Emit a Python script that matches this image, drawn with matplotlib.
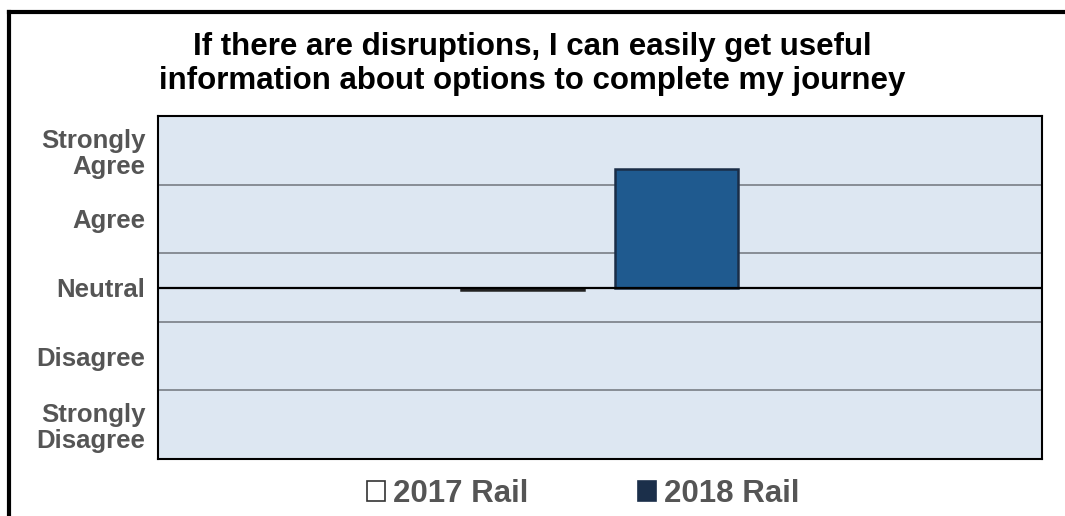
import matplotlib.pyplot as plt
from matplotlib.lines import Line2D
from matplotlib.patches import Patch

plt.rcParams['font.family'] = ['Liberation Sans', 'DejaVu Sans']

# --- data ---
series = ["2017 Rail", "2018 Rail"]
values = [-0.03, 1.73]
fills = ["white", "#1f5a8f"]
edges = ["#222222", "#1a2d47"]
legend_fills = ["white", "#1b2f4a"]
tick_pos = [2, 1, 0, -1, -2]
tick_labels = ["Strongly\nAgree", "Agree", "Neutral", "Disagree", "Strongly\nDisagree"]
grid_pos = [1.5, 0.5, -0.5, -1.5]
title = ("If there are disruptions, I can easily get useful\n"
         "information about options to complete my journey")

fig = plt.figure(figsize=(10.65, 5.16), dpi=100)
ax = fig.add_axes([158 / 1065, 1 - 459 / 516, 884 / 1065, 343 / 516])
ax.set_facecolor("#dde7f2")

# gridlines and neutral line
for g in grid_pos:
    ax.axhline(g, color="#80868e", lw=1.3, zorder=1)
ax.axhline(0, color="black", lw=1.6, zorder=3)

offsets = [-0.0875, 0.0865]
width = 0.139
for off, v, fc, ec in zip(offsets, values, fills, edges):
    ax.bar(off, v, width=width, color=fc, edgecolor=ec, lw=1.8, zorder=2)

ax.set_xlim(-0.5, 0.5)
ax.set_ylim(-2.5, 2.5)
ax.set_xticks([])
ax.set_yticks(tick_pos)
ax.set_yticklabels(tick_labels, fontsize=18.5, fontweight="bold",
                   color="#555555", linespacing=1.1)
ax.tick_params(axis="y", length=0, pad=9)
for s in ax.spines.values():
    s.set_color("black")
    s.set_linewidth(1.5)

fig.text(0.5, 1 - 64 / 516, title, ha="center", va="center",
         fontsize=22.5, fontweight="bold", color="black", linespacing=1.2)

handles = [Patch(facecolor=fc, edgecolor=("#333333" if fc == "white" else fc), lw=1.2)
           for fc in legend_fills]
fig.legend(handles, series, loc="center", bbox_to_anchor=(583.5 / 1065, 1 - 494 / 516),
           ncol=2, frameon=False, handlelength=0.58, handleheight=0.58,
           handletextpad=0.26, columnspacing=3.5, borderpad=0,
           prop={"size": 22.5, "weight": "bold"}, labelcolor="#555555")

# outer frame (top and left edges)
fig.add_artist(Line2D([9 / 1065, 9 / 1065], [0, 1 - 12 / 516], color="black", lw=3,
                      transform=fig.transFigure))
fig.add_artist(Line2D([9 / 1065, 1], [1 - 12 / 516, 1 - 12 / 516], color="black", lw=3,
                      transform=fig.transFigure))

fig.savefig("out.png", dpi=100)
